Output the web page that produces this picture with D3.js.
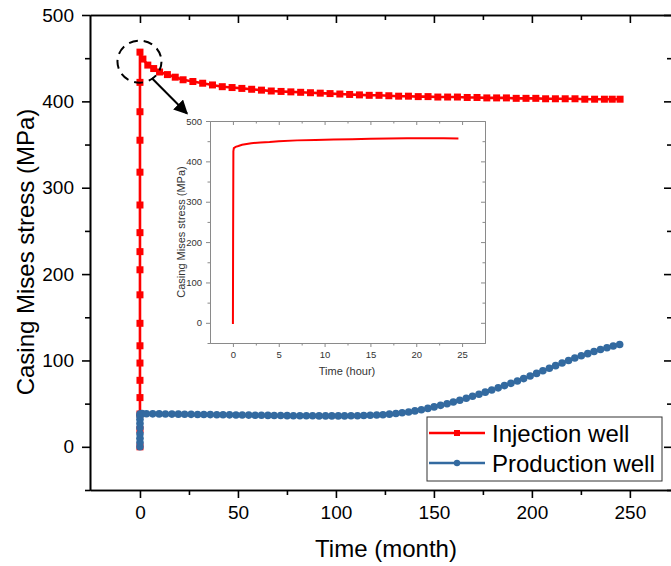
<!DOCTYPE html>
<html>
<head>
<meta charset="utf-8">
<script src="https://cdn.jsdelivr.net/npm/d3@7"></script>
<style>
  body { margin: 0; background: #fff; }
  svg { display: block; font-family: Arial, "Liberation Sans", sans-serif; }
</style>
</head>
<body>
<div id="chart"></div>
<script>
// injection well (month, MPa)
var injTime = [0,0,0,0,0,0,0,0,0,0,0,0,0,0,0,0,0,0,
  1.5,4,7,10,14,18,22,27,32,37,42,47,52,57,62,67,72,77,82,87,92,97,102,107,112,117,122,127,
  132,137,142,147,152,157,162,167,172,177,182,187,192,197,202,207,212,217,222,227,232,237,241,245];
var injStress = [0,20,38,57,77,97,117,143,176,205,226,248,280,318,355,388,422,457,
  449,442,438,434,431,428,425,423,421,419,417,416,415,414,413,412,411.5,411,410.5,410,409.5,409,408.5,408,407.5,407,407,406.5,
  406,406,405.5,405.5,405,405,405,404.5,404.5,404,404,404,403.5,403.5,403.5,403,403,403,403,402.5,402.5,402.5,402.5,402.5];

// production well (month, MPa)
var prodTime = [0,0,0,0,0,0,0,0,0,
  1,3.3,6.5,9.8,13,16.3,19.6,22.8,26.1,29.4,32.6,35.9,39.2,42.4,45.7,49,52.2,55.5,58.8,62,65.3,68.5,71.8,75.1,78.3,81.6,84.9,
  88.1,91.4,94.7,97.9,101.2,104.4,107.7,111,114.2,117.5,120.8,124,127.3,130.6,133.8,137.1,140.3,143.6,146.9,150.1,153.4,
  156.7,159.9,163.2,166.5,169.7,173,176.2,179.5,182.8,186,189.3,192.6,195.8,199.1,202.4,205.6,208.9,212.1,215.4,218.7,
  221.9,225.2,228.5,231.7,235,238.3,241.5,244.8];
var prodStress = [0,5,10,15,22,27,32,36,38,
  38.5,38.3,38.2,38.1,38,37.9,37.8,37.7,37.6,37.5,37.4,37.3,37.2,37.1,37,36.9,36.8,36.7,36.6,36.5,36.4,36.3,36.2,36.1,36,36,35.9,
  35.9,35.8,35.8,35.8,35.8,35.8,35.9,36,36.2,36.5,36.8,37.2,37.8,38.5,39.4,40.4,41.6,43,44.5,46.2,48,
  49.9,51.9,54,56.2,58.5,60.9,63.3,65.8,68.3,70.9,73.5,76.2,79,82,85,88,91,94,97,100,
  102.8,105.4,107.9,110.3,112.6,114.7,116.7,118.5];

// inset: first day of injection well (hour, MPa)
var hourTime = [0,0.02,0.05,0.1,0.3,0.6,1,1.5,2,3,4,5,7,9,11,13,15,17,19,21,23,24.6];
var hourStress = [-3,200,425,433,436,438,441,443,445,447,448,450,452,453,454,455,456,456.5,457,457,457,456.5];

var monthTicks = [0,50,100,150,200,250];
var stressTicks = [0,100,200,300,400,500];
var hourTicks = [0,5,10,15,20,25];
var seriesNames = ["Injection well", "Production well"];
var seriesColors = ["#ff0000", "#336aa0"];

var W = 671, H = 566;
var svg = d3.select("#chart").append("svg").attr("width", W).attr("height", H);

var x = d3.scaleLinear().domain([-25.5, 271.5]).range([90, 672]);
var y = d3.scaleLinear().domain([-50, 500]).range([490, 15]);

function minorOf(major, step) {
  return major.map(function(d) { return d + step; });
}

function frame(g, xs, ys, o) {
  var x0 = xs.range()[0], x1 = xs.range()[1], y0 = ys.range()[0], y1 = ys.range()[1];
  var xMinor = minorOf([xs.domain()[0] - o.xstep].concat(o.xt), o.xstep / 2).filter(function(d) { return d > xs.domain()[0] && d < xs.domain()[1]; });
  var yMinor = minorOf([-100].concat(o.yt), o.ystep / 2).filter(function(d) { return d >= ys.domain()[0] && d < ys.domain()[1]; });
  // bottom
  g.append("g").attr("transform", "translate(0," + y0 + ")")
    .call(d3.axisBottom(xs).tickValues(o.xt).tickSize(o.big).tickSizeOuter(0).tickPadding(o.pad));
  g.append("g").attr("transform", "translate(0," + y0 + ")")
    .call(d3.axisBottom(xs).tickValues(xMinor).tickSize(o.small).tickSizeOuter(0).tickFormat(""));
  // left
  g.append("g").attr("transform", "translate(" + x0 + ",0)")
    .call(d3.axisLeft(ys).tickValues(o.yt).tickSize(o.big).tickSizeOuter(0).tickPadding(o.pad));
  g.append("g").attr("transform", "translate(" + x0 + ",0)")
    .call(d3.axisLeft(ys).tickValues(yMinor).tickSize(o.small).tickSizeOuter(0).tickFormat(""));
  // top and right, ticks inside
  g.append("g").attr("transform", "translate(0," + y1 + ")")
    .call(d3.axisTop(xs).tickValues(o.xt).tickSize(-o.big).tickSizeOuter(0).tickFormat(""));
  g.append("g").attr("transform", "translate(0," + y1 + ")")
    .call(d3.axisTop(xs).tickValues(xMinor).tickSize(-o.small).tickSizeOuter(0).tickFormat(""));
  g.append("g").attr("transform", "translate(" + x1 + ",0)")
    .call(d3.axisRight(ys).tickValues(o.yt).tickSize(-o.big).tickSizeOuter(0).tickFormat(""));
  g.append("g").attr("transform", "translate(" + x1 + ",0)")
    .call(d3.axisRight(ys).tickValues(yMinor).tickSize(-o.small).tickSizeOuter(0).tickFormat(""));
  g.selectAll(".domain, .tick line").attr("stroke", o.color).attr("stroke-width", o.width);
  g.selectAll(".tick text").attr("fill", o.text).style("font-size", o.font + "px").style("font-family", null);
}

// main axes
var axes = svg.append("g");
frame(axes, x, y, { xt: monthTicks, yt: stressTicks, xstep: 50, ystep: 100, big: 8, small: 5, pad: 8,
  color: "#000", width: 1.6, text: "#000", font: 19 });

svg.append("text").attr("transform", "translate(34,252) rotate(-90)")
  .attr("text-anchor", "middle").style("font-size", "24px").text("Casing Mises stress (MPa)");
svg.append("text").attr("x", 386).attr("y", 557)
  .attr("text-anchor", "middle").style("font-size", "24px").text("Time (month)");

// series
var line = d3.line().x(function(d) { return x(d[0]); }).y(function(d) { return y(d[1]); });
var inj = d3.zip(injTime, injStress);
var prod = d3.zip(prodTime, prodStress);

svg.append("path").datum(inj).attr("d", line)
  .attr("fill", "none").attr("stroke", seriesColors[0]).attr("stroke-width", 2.6);
svg.append("g").selectAll("rect").data(inj).enter().append("rect")
  .attr("x", function(d) { return x(d[0]) - 3.5; })
  .attr("y", function(d) { return y(d[1]) - 3.5; })
  .attr("width", 7).attr("height", 7).attr("fill", seriesColors[0]);

svg.append("path").datum(prod).attr("d", line)
  .attr("fill", "none").attr("stroke", seriesColors[1]).attr("stroke-width", 2.4);
svg.append("g").selectAll("circle").data(prod).enter().append("circle")
  .attr("cx", function(d) { return x(d[0]); })
  .attr("cy", function(d) { return y(d[1]); })
  .attr("r", 3.8).attr("fill", seriesColors[1]);

// dashed circle + arrow pointing to inset
svg.append("defs").append("marker")
  .attr("id", "head").attr("viewBox", "0 0 10 10").attr("refX", 9).attr("refY", 5)
  .attr("markerWidth", 7).attr("markerHeight", 7).attr("orient", "auto")
  .append("path").attr("d", "M0,0 L10,5 L0,10 z").attr("fill", "#000");
svg.append("ellipse").attr("cx", x(0) - 0.5).attr("cy", y(446)).attr("rx", 22).attr("ry", 21)
  .attr("fill", "none").attr("stroke", "#000").attr("stroke-width", 2).attr("stroke-dasharray", "9,6");
svg.append("line").attr("x1", x(6)).attr("y1", y(427)).attr("x2", x(24)).attr("y2", y(386))
  .attr("stroke", "#000").attr("stroke-width", 2).attr("marker-end", "url(#head)");

// inset
var xi = d3.scaleLinear().domain([-2.5, 27.5]).range([210, 485]);
var yi = d3.scaleLinear().domain([-50, 500]).range([343, 121]);
var inset = svg.append("g");
frame(inset, xi, yi, { xt: hourTicks, yt: stressTicks, xstep: 5, ystep: 100, big: 4, small: 2.5, pad: 4,
  color: "#8a8a8a", width: 1, text: "#333", font: 9.5 });
inset.append("path").datum(d3.zip(hourTime, hourStress))
  .attr("d", d3.line().x(function(d) { return xi(d[0]); }).y(function(d) { return yi(d[1]); }))
  .attr("fill", "none").attr("stroke", seriesColors[0]).attr("stroke-width", 2);
inset.append("text").attr("transform", "translate(185,232) rotate(-90)")
  .attr("text-anchor", "middle").attr("fill", "#333").style("font-size", "11px").text("Casing Mises stress (MPa)");
inset.append("text").attr("x", 347).attr("y", 375)
  .attr("text-anchor", "middle").attr("fill", "#333").style("font-size", "11px").text("Time (hour)");

// legend
var legend = svg.append("g").attr("transform", "translate(427,417)");
legend.append("rect").attr("width", 235).attr("height", 64)
  .attr("fill", "#fff").attr("stroke", "#333").attr("stroke-width", 1);
var item = legend.selectAll(".item").data(seriesNames).enter().append("g")
  .attr("transform", function(d, i) { return "translate(0," + (16 + i * 30) + ")"; });
item.append("line").attr("x1", 2).attr("x2", 58)
  .attr("stroke", function(d, i) { return seriesColors[i]; }).attr("stroke-width", 2.4);
item.each(function(d, i) {
  var g = d3.select(this);
  if (i === 0) g.append("rect").attr("x", 27).attr("y", -3).attr("width", 6).attr("height", 6).attr("fill", seriesColors[0]);
  else g.append("circle").attr("cx", 30).attr("r", 3.2).attr("fill", seriesColors[1]);
});
item.append("text").attr("x", 65).attr("y", 9).style("font-size", "24px").text(function(d) { return d; });
</script>
</body>
</html>
